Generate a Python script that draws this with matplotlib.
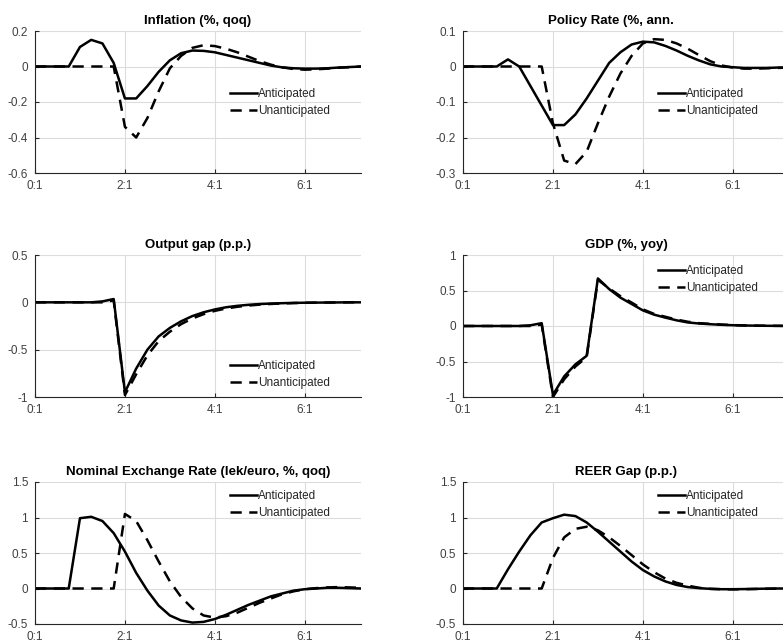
import numpy as np
import matplotlib
matplotlib.use("Agg")
import matplotlib.pyplot as plt
from matplotlib.ticker import FuncFormatter

plt.rcParams['font.family'] = ['Liberation Sans', 'DejaVu Sans']
plt.rcParams['axes.unicode_minus'] = False

# quarters 0:1 .. 7:2
quarters = list(range(30))
xtick_pos = [0, 8, 16, 24]
xtick_lab = ["0:1", "2:1", "4:1", "6:1"]

infl_ant = [0, 0, 0, 0, 0.11, 0.15, 0.13, 0.02, -0.18, -0.18, -0.11, -0.03, 0.035, 0.075, 0.09,
            0.088, 0.08, 0.065, 0.05, 0.035, 0.02, 0.005, -0.005, -0.01, -0.012, -0.012, -0.01,
            -0.006, -0.003, 0]
infl_unant = [0, 0, 0, 0, 0, 0, 0, 0, -0.34, -0.40, -0.29, -0.14, -0.01, 0.06, 0.105, 0.12,
              0.115, 0.1, 0.08, 0.055, 0.03, 0.01, -0.005, -0.014, -0.018, -0.016, -0.012,
              -0.007, -0.004, 0]

policy_ant = [0, 0, 0, 0, 0.02, 0.0, -0.055, -0.11, -0.165, -0.165, -0.135, -0.09, -0.04, 0.01,
              0.04, 0.062, 0.07, 0.068, 0.058, 0.045, 0.03, 0.017, 0.006, 0.0, -0.002, -0.004,
              -0.004, -0.004, -0.003, -0.003]
policy_unant = [0, 0, 0, 0, 0, 0, 0, 0, -0.16, -0.265, -0.275, -0.24, -0.16, -0.085, -0.02, 0.03,
                0.065, 0.077, 0.075, 0.065, 0.05, 0.032, 0.015, 0.003, -0.003, -0.006, -0.006,
                -0.005, -0.004, -0.003]

gap_ant = [0, 0, 0, 0, 0, 0, 0.01, 0.035, -0.95, -0.70, -0.50, -0.36, -0.27, -0.2, -0.145,
           -0.105, -0.075, -0.052, -0.037, -0.026, -0.018, -0.013, -0.009, -0.006, -0.004,
           -0.003, -0.002, -0.001, 0, 0]
gap_unant = [0, 0, 0, 0, 0, 0, 0, 0.02, -0.98, -0.76, -0.56, -0.41, -0.31, -0.23, -0.17,
             -0.125, -0.09, -0.065, -0.047, -0.034, -0.024, -0.017, -0.012, -0.008, -0.005,
             -0.003, -0.002, -0.001, 0, 0]

gdp_ant = [0, 0, 0, 0, 0, 0, 0.01, 0.04, -0.97, -0.71, -0.54, -0.42, 0.67, 0.52, 0.4, 0.31,
           0.22, 0.16, 0.118, 0.08, 0.05, 0.035, 0.025, 0.017, 0.011, 0.007, 0.005, 0.003,
           0.002, 0.001]
gdp_unant = [0, 0, 0, 0, 0, 0, 0, 0.02, -1.0, -0.75, -0.57, -0.44, 0.65, 0.53, 0.42, 0.33,
             0.235, 0.17, 0.13, 0.09, 0.06, 0.04, 0.03, 0.02, 0.013, 0.008, 0.005, 0.003,
             0.002, 0.001]

ner_ant = [0, 0, 0, 0, 0.99, 1.01, 0.95, 0.78, 0.52, 0.22, -0.03, -0.24, -0.38, -0.45, -0.48,
           -0.47, -0.43, -0.37, -0.3, -0.23, -0.17, -0.11, -0.07, -0.03, -0.01, 0.0, 0.01,
           0.01, 0.005, 0]
ner_unant = [0, 0, 0, 0, 0, 0, 0, 0, 1.05, 0.95, 0.68, 0.38, 0.1, -0.12, -0.28, -0.38, -0.41,
             -0.39, -0.34, -0.27, -0.2, -0.14, -0.08, -0.04, -0.01, 0.005, 0.015, 0.02, 0.015,
             0.01]

reer_ant = [0, 0, 0, 0, 0.27, 0.52, 0.75, 0.93, 0.99, 1.04, 1.02, 0.93, 0.8, 0.66, 0.52, 0.38,
            0.26, 0.17, 0.1, 0.05, 0.02, 0.005, -0.005, -0.01, -0.01, -0.008, -0.005, -0.002,
            0, 0]
reer_unant = [0, 0, 0, 0, 0, 0, 0, 0, 0.43, 0.72, 0.84, 0.87, 0.82, 0.72, 0.6, 0.47, 0.34,
              0.23, 0.14, 0.08, 0.04, 0.01, -0.005, -0.01, -0.012, -0.01, -0.007, -0.004,
              -0.002, 0]

panels = [
    ("Inflation (%, qoq)", infl_ant, infl_unant, [-0.6, -0.4, -0.2, 0, 0.2]),
    ("Policy Rate (%, ann.", policy_ant, policy_unant, [-0.3, -0.2, -0.1, 0, 0.1]),
    ("Output gap (p.p.)", gap_ant, gap_unant, [-1, -0.5, 0, 0.5]),
    ("GDP (%, yoy)", gdp_ant, gdp_unant, [-1, -0.5, 0, 0.5, 1]),
    ("Nominal Exchange Rate (lek/euro, %, qoq)", ner_ant, ner_unant, [-0.5, 0, 0.5, 1, 1.5]),
    ("REER Gap (p.p.)", reer_ant, reer_unant, [-0.5, 0, 0.5, 1, 1.5]),
]

W, H = 783, 642
fig = plt.figure(figsize=(W / 100, H / 100), dpi=100)

# pixel boxes: left, top, width, height
col_x = [35, 463]
row_top = [31, 255, 482]
ax_w, ax_h = 326, 142
title_x = [0.5, 0.454, 0.5, 0.5, 0.5, 0.5]
# legend upper-left corner in pixels
leg_xy = [(230, 88), (658, 88), (230, 360), (658, 265), (230, 490), (658, 490)]

for i, (title, ant, unant, yt) in enumerate(panels):
    r, c = divmod(i, 2)
    x0, y0 = col_x[c], row_top[r]
    ax = fig.add_axes([x0 / W, 1 - (y0 + ax_h) / H, ax_w / W, ax_h / H])
    ax.plot(quarters, ant, color="black", lw=1.8, label="Anticipated")
    ax.plot(quarters, unant, color="black", lw=1.8, ls=(0, (4.5, 3)), label="Unanticipated")
    ax.set_xlim(0, 29)
    ax.set_ylim(yt[0], yt[-1])
    ax.set_xticks(xtick_pos)
    ax.set_xticklabels(xtick_lab)
    ax.set_yticks(yt)
    ax.yaxis.set_major_formatter(FuncFormatter(lambda v, p: "%g" % v))
    ax.grid(True, color="#dcdcdc", lw=0.8)
    ax.set_axisbelow(True)
    for s in ["top", "right"]:
        ax.spines[s].set_visible(False)
    for s in ["left", "bottom"]:
        ax.spines[s].set_color("#262626")
        ax.spines[s].set_linewidth(0.8)
    ax.tick_params(direction="in", length=3, width=0.8, colors="#262626",
                   labelsize=8.5, labelcolor="#404040", pad=5)
    ax.set_title(title, fontsize=9.5, fontweight="bold", x=title_x[i], pad=5)
    lx, ly = leg_xy[i]
    ax.legend(loc="upper left", bbox_to_anchor=(lx / W, 1 - ly / H),
              bbox_transform=fig.transFigure, frameon=False, fontsize=8.5,
              handlelength=2.3, handletextpad=0.1, borderpad=0, borderaxespad=0,
              labelspacing=0.45, labelcolor="#262626")

fig.savefig("out.png", dpi=100)
